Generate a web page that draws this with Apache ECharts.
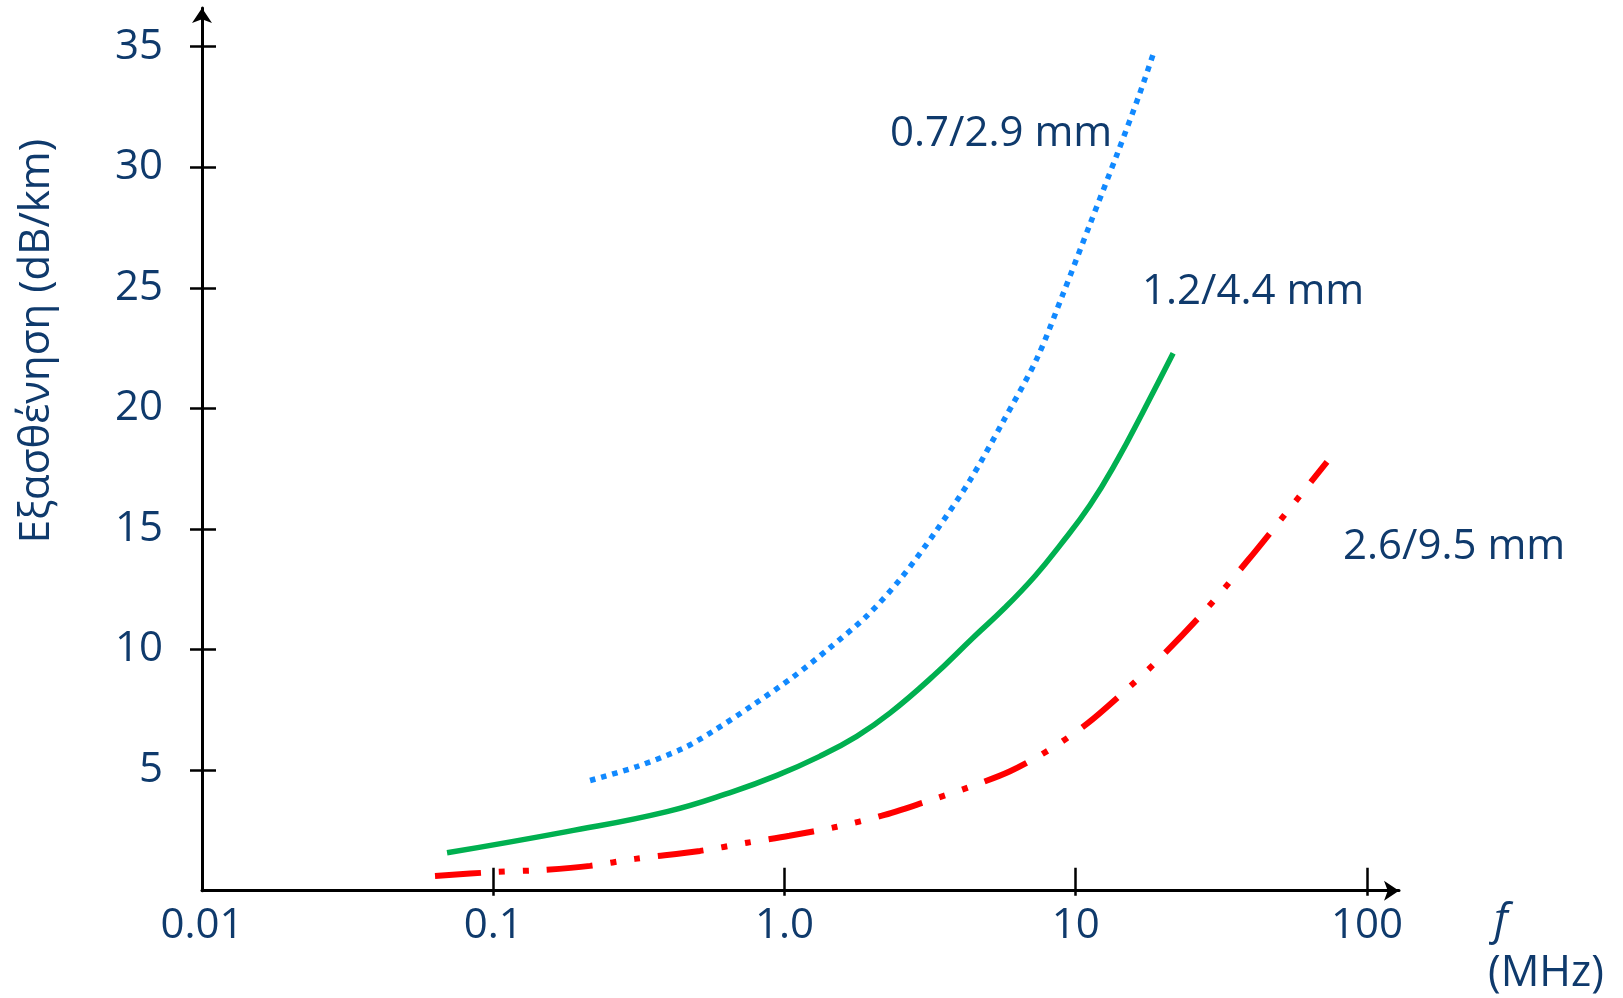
<!DOCTYPE html>
<html>
<head>
<meta charset="utf-8">
<script src="https://cdn.jsdelivr.net/npm/echarts@6/dist/echarts.min.js"></script>
<style>
  html, body { margin: 0; padding: 0; background: #ffffff; }
  #chart { width: 1623px; height: 998px; }
</style>
</head>
<body>
<div id="chart"></div>
<script>
// ---- data (frequency in MHz, attenuation in dB/km) ----
const seriesNames = ['0.7/2.9 mm', '1.2/4.4 mm', '2.6/9.5 mm'];

const freqSmall = [0.215, 0.312, 0.448, 0.568, 0.779, 1.07, 1.43, 1.92, 2.49, 3.29, 4.34, 5.63, 7.36, 9.04, 11.2, 13.9, 16.6, 18.6];
const attSmall  = [4.57, 5.15, 5.90, 6.61, 7.70, 8.86, 10.07, 11.40, 12.90, 14.86, 17.03, 19.45, 22.07, 24.74, 27.65, 30.57, 33.07, 34.82];

const freqMedium = [0.0694, 0.179, 0.395, 0.666, 0.942, 1.32, 1.77, 2.30, 3.24, 4.44, 5.72, 7.25, 8.83, 11.2, 13.9, 17.0, 21.6];
const attMedium  = [1.57, 2.45, 3.28, 4.11, 4.78, 5.57, 6.40, 7.36, 8.90, 10.49, 11.74, 13.05, 14.32, 15.99, 17.86, 19.84, 22.28];

const freqLarge = [0.0631, 0.103, 0.148, 0.215, 0.307, 0.513, 0.744, 1.04, 1.51, 2.16, 2.99, 4.27, 5.95, 8.16, 11.0, 14.5, 18.9, 27.4, 39.0, 54.4, 72.9];
const attLarge  = [0.61, 0.78, 0.86, 1.03, 1.32, 1.65, 1.99, 2.28, 2.65, 3.11, 3.65, 4.28, 4.95, 5.86, 6.95, 8.20, 9.49, 11.53, 13.70, 15.86, 17.78];

const xTickValues = [0.01, 0.1, 1, 10, 100];
const xTickLabels = ['0.01', '0.1', '1.0', '10', '100'];
const yTickValues = [5, 10, 15, 20, 25, 30, 35];
const yTickLabels = ['5', '10', '15', '20', '25', '30', '35'];

const yAxisTitle = 'Εξασθένηση (dB/km)';
const xAxisTitle = 'f';
const xAxisUnit = '(MHz)';

// ---- build ----
function pairs(xs, ys) { return xs.map((x, i) => [x, ys[i]]); }

const navy = '#0f3a6c';
const font = "'Open Sans', 'Noto Sans', sans-serif";
const X_MIN = 0.01, X_MAX = 128.8, Y_MIN = 0, Y_MAX = 36.6;

function xLabel(v) {
  for (let i = 0; i < xTickValues.length; i++) {
    if (Math.abs(Math.log10(v) - Math.log10(xTickValues[i])) < 1e-6) return xTickLabels[i];
  }
  return '';
}
function yLabel(v) {
  const i = yTickValues.indexOf(Math.round(v));
  return i >= 0 ? yTickLabels[i] : '';
}

const chart = echarts.init(document.getElementById('chart'), null, { renderer: 'canvas' });

const option = {
  backgroundColor: '#ffffff',
  animation: false,
  grid: { left: 202, right: 224, top: 8, bottom: 107.3, containLabel: false },
  xAxis: [
    {
      type: 'log', logBase: 10, min: X_MIN, max: X_MAX,
      position: 'bottom',
      axisLine: { show: true, symbol: ['none', 'arrow'], symbolSize: [15, 15],
                  lineStyle: { color: '#000', width: 3 } },
      axisTick: { show: true, inside: false, length: 5, customValues: xTickValues.slice(1),
                  lineStyle: { color: '#000', width: 2.5 } },
      axisLabel: { show: true, customValues: xTickValues, formatter: xLabel, margin: 14,
                   color: navy, fontSize: 42, fontFamily: font },
      splitLine: { show: false }, minorTick: { show: false }
    },
    {
      type: 'log', logBase: 10, min: X_MIN, max: X_MAX,
      position: 'bottom',
      axisLine: { show: false },
      axisTick: { show: true, inside: true, length: 23, customValues: xTickValues.slice(1),
                  lineStyle: { color: '#000', width: 2.5 } },
      axisLabel: { show: false },
      splitLine: { show: false }
    }
  ],
  yAxis: [
    {
      type: 'value', min: Y_MIN, max: Y_MAX,
      position: 'left',
      axisLine: { show: true, symbol: ['none', 'arrow'], symbolSize: [15, 15],
                  lineStyle: { color: '#000', width: 3 } },
      axisTick: { show: true, inside: false, length: 12, customValues: yTickValues,
                  lineStyle: { color: '#000', width: 2.5 } },
      axisLabel: { show: true, customValues: yTickValues, formatter: yLabel, margin: 39,
                   color: navy, fontSize: 42, fontFamily: font },
      splitLine: { show: false }
    },
    {
      type: 'value', min: Y_MIN, max: Y_MAX,
      position: 'left', offset: 0,
      axisLine: { show: false },
      axisTick: { show: true, inside: true, length: 14, customValues: yTickValues,
                  lineStyle: { color: '#000', width: 2.5 } },
      axisLabel: { show: false },
      splitLine: { show: false }
    }
  ],
  series: [
    {
      name: seriesNames[0], type: 'line', xAxisIndex: 0, yAxisIndex: 0,
      data: pairs(freqSmall, attSmall), smooth: 0.3, showSymbol: false, symbol: 'none',
      lineStyle: { color: '#1189ff', width: 5.5, type: [5.5, 6], cap: 'butt' }
    },
    {
      name: seriesNames[1], type: 'line', xAxisIndex: 0, yAxisIndex: 0,
      data: pairs(freqMedium, attMedium), smooth: 0.45, showSymbol: false, symbol: 'none',
      lineStyle: { color: '#00b050', width: 5.5, type: 'solid', cap: 'butt' }
    },
    {
      name: seriesNames[2], type: 'line', xAxisIndex: 0, yAxisIndex: 0,
      data: pairs(freqLarge, attLarge), smooth: 0.3, showSymbol: false, symbol: 'none',
      lineStyle: { color: '#ff0000', width: 6, type: [46, 18, 6, 18, 6, 18], cap: 'butt' }
    }
  ],
  graphic: [
    { type: 'text', left: 890, top: 113, style: { text: seriesNames[0], fill: navy, font: '42px ' + font } },
    { type: 'text', left: 1142, top: 271, style: { text: seriesNames[1], fill: navy, font: '42px ' + font } },
    { type: 'text', left: 1343, top: 526, style: { text: seriesNames[2], fill: navy, font: '42px ' + font } },
    { type: 'text', x: 37, y: 341, rotation: Math.PI / 2,
      style: { text: yAxisTitle, fill: navy, font: '42px ' + font, align: 'center', verticalAlign: 'middle' } },
    { type: 'text', x: 1494, y: 921,
      style: { text: xAxisTitle, fill: navy, font: 'italic 44px ' + font, align: 'left', verticalAlign: 'middle' } },
    { type: 'text', x: 1488, y: 974,
      style: { text: xAxisUnit, fill: navy, font: '43px ' + font, align: 'left', verticalAlign: 'middle' } }
  ]
};

chart.setOption(option);
</script>
</body>
</html>
